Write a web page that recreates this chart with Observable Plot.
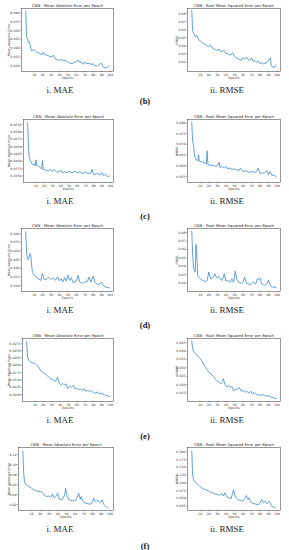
<!DOCTYPE html>
<html><head><meta charset="utf-8">
<script src="https://cdn.jsdelivr.net/npm/d3@7"></script>
<script src="https://cdn.jsdelivr.net/npm/@observablehq/plot@0.6"></script>
<style>
body{margin:0;background:#fff;}
#page{position:relative;width:289px;height:550px;overflow:hidden;background:#fff;}
.chart{position:absolute;}
.cap{position:absolute;font-family:"Liberation Serif",serif;font-size:9px;color:#222;transform:translate(-50%,-50%);white-space:nowrap;}
.sub{position:absolute;font-family:"Liberation Serif",serif;font-size:8.5px;font-weight:bold;color:#111;transform:translate(-50%,-50%);white-space:nowrap;}
</style></head><body><div id="page"></div>
<script>
// ---------- data ----------
const panelLabels = ["(b)", "(c)", "(d)", "(e)", "(f)"];
const maeCaption = "i. MAE";
const rmseCaption = "ii. RMSE";
const maeTitle = "CNN - Mean Absolute Error per Epoch";
const rmseTitle = "CNN - Root Mean Squared Error per Epoch";
const xTicks = [10, 20, 30, 40, 50, 60, 70, 80, 90, 100];

// (b)
const bMaeEpochs = [0,1,2,3,4,5,6,7,8,10,12,14,16,18,20,21,23,25,28,30,32,33,35,37,40,42,45,47,50,52,55,58,60,62,64,66,68,70,72,75,77,80,82,85,87,89,90,92,94,96,98,99];
const bMae = [0.0412,0.0265,0.0258,0.0233,0.0238,0.0223,0.0200,0.0185,0.0189,0.0189,0.0181,0.0175,0.0171,0.0165,0.0165,0.0177,0.0162,0.0160,0.0154,0.0150,0.0154,0.0160,0.0138,0.0135,0.0131,0.0135,0.0127,0.0131,0.0121,0.0115,0.0112,0.0119,0.0123,0.0133,0.0119,0.0123,0.0108,0.0121,0.0112,0.0113,0.0108,0.0110,0.0102,0.0098,0.0106,0.0115,0.0108,0.0092,0.0087,0.0089,0.0096,0.0098];
const bMaeTicks = [0.010,0.015,0.020,0.025,0.030,0.035,0.040];
const bRmseEpochs = [0,1,2,3,4,5,6,8,10,12,14,16,18,20,22,24,26,28,30,32,34,36,38,40,42,44,46,48,50,52,55,58,60,62,64,66,68,70,72,74,76,78,80,82,84,86,88,90,92,93,95,97,99];
const bRmse = [0.0837,0.0594,0.0561,0.0553,0.0520,0.0512,0.0528,0.0479,0.0463,0.0446,0.0430,0.0421,0.0405,0.0397,0.0413,0.0380,0.0364,0.0356,0.0347,0.0364,0.0331,0.0339,0.0347,0.0306,0.0314,0.0290,0.0298,0.0319,0.0273,0.0257,0.0240,0.0224,0.0257,0.0240,0.0265,0.0240,0.0224,0.0257,0.0216,0.0224,0.0199,0.0220,0.0183,0.0199,0.0183,0.0191,0.0199,0.0224,0.0257,0.0166,0.0142,0.0142,0.0170];
const bRmseTicks = [0.02,0.03,0.04,0.05,0.06,0.07,0.08];

// (c)
const cMaeEpochs = [0,1,2,3,4,5,6,8,9,10,11,13,15,17,18,19,22,25,28,30,32,35,38,40,42,45,48,50,53,55,58,60,63,65,68,70,73,75,77,78,80,83,85,88,90,92,94,97,99];
const cMae = [0.0531,0.0448,0.0414,0.0405,0.0400,0.0393,0.0389,0.0391,0.0385,0.0405,0.0385,0.0384,0.0380,0.0374,0.0402,0.0372,0.0370,0.0368,0.0373,0.0366,0.0372,0.0364,0.0364,0.0370,0.0361,0.0364,0.0361,0.0366,0.0361,0.0362,0.0367,0.0360,0.0364,0.0361,0.0359,0.0364,0.0359,0.0359,0.0361,0.0373,0.0355,0.0357,0.0359,0.0353,0.0362,0.0351,0.0356,0.0348,0.0350];
const cMaeTicks = [0.0350,0.0375,0.0400,0.0425,0.0450,0.0475,0.0500,0.0525];
const cRmseEpochs = [0,1,2,3,5,7,8,9,11,13,15,17,18,19,22,25,28,30,32,33,35,38,40,42,45,48,50,53,55,57,60,63,65,68,70,73,75,78,80,83,85,88,90,92,94,96,99];
const cRmse = [0.0803,0.0714,0.0698,0.0652,0.0628,0.0623,0.0652,0.0620,0.0620,0.0617,0.0613,0.0608,0.0670,0.0605,0.0602,0.0602,0.0597,0.0600,0.0617,0.0592,0.0597,0.0589,0.0597,0.0586,0.0589,0.0581,0.0586,0.0580,0.0577,0.0589,0.0573,0.0577,0.0573,0.0569,0.0573,0.0570,0.0569,0.0589,0.0564,0.0567,0.0566,0.0577,0.0558,0.0573,0.0555,0.0558,0.0547];
const cRmseTicks = [0.055,0.060,0.065,0.070,0.075,0.080];

// (d)
const dMaeEpochs = [0,1,2,3,4,5,6,7,8,10,13,15,18,19,20,22,25,27,30,32,35,38,40,42,44,46,48,50,52,54,56,60,62,64,68,70,73,75,77,80,82,85,88,90,92,95,99];
const dMae = [0.0410,0.0294,0.0262,0.0250,0.0265,0.0285,0.0275,0.0217,0.0179,0.0160,0.0146,0.0140,0.0131,0.0160,0.0169,0.0135,0.0140,0.0150,0.0135,0.0146,0.0131,0.0150,0.0127,0.0140,0.0121,0.0146,0.0127,0.0160,0.0131,0.0146,0.0119,0.0127,0.0160,0.0121,0.0115,0.0121,0.0125,0.0150,0.0121,0.0156,0.0121,0.0108,0.0111,0.0121,0.0100,0.0092,0.0088];
const dMaeTicks = [0.010,0.015,0.020,0.025,0.030,0.035,0.040];
const dRmseEpochs = [0,1,2,3,4,5,6,7,8,10,13,15,18,20,22,25,27,29,32,35,37,38,40,43,45,47,49,51,53,55,58,60,62,64,68,70,72,75,77,78,80,82,85,88,90,92,95,99];
const dRmse = [0.0816,0.0550,0.0391,0.0351,0.0332,0.0661,0.0510,0.0292,0.0272,0.0252,0.0232,0.0220,0.0232,0.0332,0.0252,0.0272,0.0312,0.0264,0.0280,0.0232,0.0272,0.0312,0.0224,0.0232,0.0212,0.0252,0.0212,0.0343,0.0240,0.0212,0.0200,0.0212,0.0272,0.0200,0.0184,0.0192,0.0212,0.0192,0.0252,0.0240,0.0264,0.0192,0.0173,0.0192,0.0240,0.0173,0.0153,0.0153];
const dRmseTicks = [0.02,0.03,0.04,0.05,0.06,0.07,0.08];

// (e)
const eMaeEpochs = [0,1,2,4,7,10,12,14,16,18,20,22,25,28,30,32,34,36,37,39,41,43,45,47,49,51,54,56,58,60,63,65,67,69,71,73,75,77,80,82,85,87,90,93,96,99];
const eMae = [0.0281,0.0230,0.0218,0.0213,0.0209,0.0207,0.0201,0.0196,0.0187,0.0179,0.0175,0.0171,0.0164,0.0156,0.0153,0.0151,0.0145,0.0153,0.0160,0.0139,0.0134,0.0139,0.0134,0.0137,0.0122,0.0128,0.0126,0.0132,0.0119,0.0122,0.0117,0.0119,0.0114,0.0121,0.0111,0.0117,0.0111,0.0114,0.0108,0.0105,0.0110,0.0103,0.0105,0.0100,0.0097,0.0094];
const eMaeTicks = [0.0100,0.0125,0.0150,0.0175,0.0200,0.0225,0.0250,0.0275];
const eRmseEpochs = [0,1,2,4,6,8,10,12,14,16,18,20,22,24,26,28,30,32,34,36,37,39,41,43,45,47,49,51,54,56,58,60,63,65,67,69,71,73,75,78,80,83,85,88,90,93,96,99];
const eRmse = [0.0458,0.0414,0.0400,0.0388,0.0375,0.0365,0.0355,0.0341,0.0321,0.0305,0.0289,0.0275,0.0269,0.0256,0.0246,0.0230,0.0222,0.0216,0.0206,0.0216,0.0236,0.0202,0.0186,0.0196,0.0186,0.0190,0.0166,0.0170,0.0176,0.0182,0.0162,0.0166,0.0156,0.0160,0.0150,0.0162,0.0146,0.0154,0.0146,0.0140,0.0137,0.0142,0.0137,0.0133,0.0135,0.0127,0.0123,0.0117];
const eRmseTicks = [0.015,0.020,0.025,0.030,0.035,0.040,0.045];

// (f)
const fMaeEpochs = [0,1,2,4,7,10,13,15,20,22,23,24,27,30,32,34,36,38,40,42,45,48,49,51,53,56,60,62,64,66,67,69,72,75,78,80,81,83,85,86,88,90,91,93,95,98];
const fMae = [0.1267,0.0823,0.0637,0.0591,0.0558,0.0525,0.0491,0.0471,0.0458,0.0452,0.0438,0.0392,0.0359,0.0372,0.0346,0.0412,0.0326,0.0359,0.0425,0.0306,0.0292,0.0392,0.0525,0.0359,0.0292,0.0279,0.0273,0.0326,0.0425,0.0306,0.0359,0.0259,0.0226,0.0213,0.0206,0.0259,0.0326,0.0259,0.0279,0.0292,0.0239,0.0259,0.0292,0.0193,0.0160,0.0127];
const fMaeTicks = [0.02,0.04,0.06,0.08,0.10,0.12];
const fRmseEpochs = [0,1,2,4,7,10,13,15,20,22,24,26,30,33,35,37,39,41,44,46,48,49,51,54,57,60,62,64,66,67,69,72,75,78,80,82,84,86,88,90,91,93,95,98];
const fRmse = [0.2032,0.1275,0.1113,0.1026,0.0950,0.0875,0.0810,0.0788,0.0734,0.0680,0.0712,0.0647,0.0626,0.0593,0.0658,0.0572,0.0680,0.0550,0.0507,0.0485,0.0680,0.0767,0.0550,0.0464,0.0431,0.0409,0.0485,0.0593,0.0464,0.0518,0.0377,0.0334,0.0312,0.0290,0.0355,0.0464,0.0355,0.0409,0.0323,0.0377,0.0399,0.0269,0.0226,0.0193];
const fRmseTicks = [0.025,0.050,0.075,0.100,0.125,0.150,0.175,0.200];

// ---------- layout ----------
const rows = [
  {mae: [bMaeEpochs, bMae, bMaeTicks, [0.0067, 0.0425], ".3f", 21], rmse: [bRmseEpochs, bRmse, bRmseTicks, [0.0089, 0.0862], ".2f"], top: 0, subY: 101},
  {mae: [cMaeEpochs, cMae, cMaeTicks, [0.0328, 0.0542], ".4f", 23], rmse: [cRmseEpochs, cRmse, cRmseTicks, [0.0522, 0.0816], ".3f"], top: 111, subY: 216},
  {mae: [dMaeEpochs, dMae, dMaeTicks, [0.0067, 0.0429], ".3f", 21], rmse: [dRmseEpochs, dRmse, dRmseTicks, [0.0102, 0.0848], ".2f"], top: 220, subY: 325},
  {mae: [eMaeEpochs, eMae, eMaeTicks, [0.0077, 0.0292], ".4f", 22], rmse: [eRmseEpochs, eRmse, eRmseTicks, [0.0101, 0.0474], ".3f"], top: 330, subY: 436},
  {mae: [fMaeEpochs, fMae, fMaeTicks, [0.008, 0.134], ".2f", 18], rmse: [fRmseEpochs, fRmse, fRmseTicks, [0.0107, 0.214], ".3f"], top: 439, subY: 546}
];

const lineColor = "#3a8ccc";
function panel(epochs, values, ticks, domain, fmt, title, yLabel, width, mL, mR, yLabelOffset) {
  const data = epochs.map((e, i) => ({epoch: e, value: values[i]}));
  return Plot.plot({
    width, height: 80,
    marginLeft: mL, marginRight: mR, marginTop: 8, marginBottom: 9,
    style: {fontFamily: "DejaVu Sans", fontSize: "3.2px", background: "transparent", color: "#333", overflow: "visible"},
    x: {domain: [-5, 104]},
    y: {domain},
    marks: [
      Plot.line(data, {x: "epoch", y: "value", stroke: lineColor, strokeWidth: 0.8}),
      Plot.frame({stroke: "#333", strokeWidth: 0.5}),
      Plot.axisX({ticks: xTicks, tickSize: 1.2, tickPadding: 0.8, fontSize: 3.2, stroke: "#333", strokeWidth: 0.4,
        label: "Epochs", labelAnchor: "center", labelOffset: 7.5, labelArrow: false}),
      Plot.axisY({ticks, tickFormat: d3.format(fmt), tickSize: 1.2, tickPadding: 0.8, fontSize: 3.2, stroke: "#333", strokeWidth: 0.4,
        label: yLabel, labelAnchor: "center", labelOffset: yLabelOffset, labelArrow: false}),
      Plot.text([title], {frameAnchor: "top", lineAnchor: "bottom", dy: -1.2, fontSize: 3.8, fill: "#222"})
    ]
  });
}

const page = document.getElementById("page");
function place(el, left, top) {
  el.classList.add("chart");
  el.style.left = left + "px";
  el.style.top = top + "px";
  page.appendChild(el);
}
function caption(text, cls, x, y) {
  const d = document.createElement("div");
  d.className = cls;
  d.textContent = text;
  d.style.left = x + "px";
  d.style.top = y + "px";
  page.appendChild(d);
}

rows.forEach((r, i) => {
  const [me, mv, mt, md, mf, mL] = r.mae;
  place(panel(me, mv, mt, md, mf, maeTitle, "Mean Absolute Error", 145, mL, 32, mL - 7.5), 0, r.top);
  const [re, rv, rt, rd, rf] = r.rmse;
  place(panel(re, rv, rt, rd, rf, rmseTitle, "RMSE", 144, 42, 9, 12), 145, r.top);
  caption(maeCaption, "cap", 60, r.top + 90);
  caption(rmseCaption, "cap", 227, r.top + 90);
  caption(panelLabels[i], "sub", 145, r.subY);
});
</script>
</body></html>
